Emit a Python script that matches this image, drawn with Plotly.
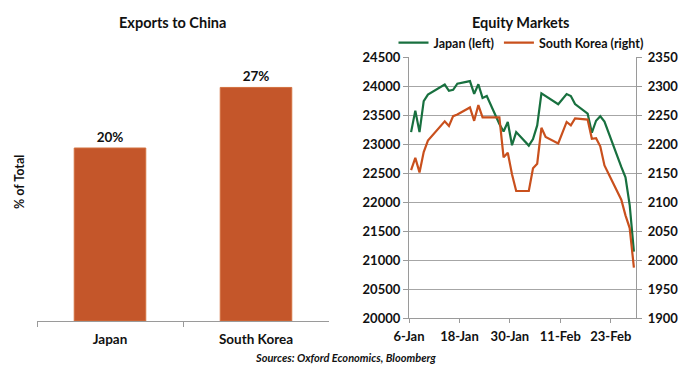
import plotly.graph_objects as go
from datetime import datetime, timedelta

# ---------------- data ----------------
bar_categories = ["Japan", "South Korea"]
bar_values = [20, 27]  # % of total exports going to China

trade_dates = [
    "2020-01-06", "2020-01-07", "2020-01-08", "2020-01-09", "2020-01-10",
    "2020-01-14", "2020-01-15", "2020-01-16", "2020-01-17", "2020-01-20",
    "2020-01-21", "2020-01-22", "2020-01-23", "2020-01-24", "2020-01-27",
    "2020-01-28", "2020-01-29", "2020-01-30", "2020-01-31",
    "2020-02-03", "2020-02-04", "2020-02-05", "2020-02-06", "2020-02-07",
    "2020-02-10", "2020-02-12", "2020-02-13", "2020-02-14", "2020-02-17",
    "2020-02-18", "2020-02-19", "2020-02-20", "2020-02-21", "2020-02-25",
    "2020-02-26", "2020-02-27", "2020-02-28",
]
japan_values = [
    23205, 23576, 23205, 23740, 23851, 24025, 23917, 23933, 24041, 24084,
    23865, 24031, 23795, 23827, 23344, 23216, 23379, 22978, 23205,
    22972, 23085, 23320, 23874, 23828, 23686, 23861, 23828, 23688, 23523,
    23194, 23401, 23479, 23387, 22605, 22426, 21948, 21143,
]
korea_values = [
    2155, 2176, 2151, 2186, 2206, 2239, 2231, 2248, 2251, 2263,
    2240, 2267, 2246, 2246, 2246, 2177, 2185, 2148, 2119,
    2119, 2158, 2166, 2228, 2212, 2201, 2238, 2232, 2244, 2242,
    2209, 2210, 2196, 2163, 2104, 2077, 2055, 1987,
]

# Excel date axis plots each day in the middle of its slot
x_dates = [datetime.strptime(d, "%Y-%m-%d") + timedelta(hours=12) for d in trade_dates]

FONT = "Lato, 'Liberation Sans', sans-serif"
BAR_COLOR = "#C4562A"
GREEN = "#18703F"
RED = "#C9501D"
GRID = "#A6A6A6"
AXIS = "#9A9A9A"

W, H = 700, 371
def px(x):
    return x / W
def py(y):
    return 1 - y / H

fig = go.Figure()

fig.add_trace(go.Bar(
    x=bar_categories, y=bar_values,
    marker=dict(color=BAR_COLOR, line=dict(color="#D2703F", width=1)),
    texttemplate="%{y}%", textposition="outside",
    textfont=dict(family=FONT, size=13.5, color="#111", weight="bold"),
    cliponaxis=False, showlegend=False,
    xaxis="x", yaxis="y",
))

fig.add_trace(go.Scatter(
    x=x_dates, y=japan_values, mode="lines", name="Japan (left)",
    line=dict(color=GREEN, width=2.2),
    xaxis="x2", yaxis="y2",
))
fig.add_trace(go.Scatter(
    x=x_dates, y=korea_values, mode="lines", name="South Korea (right)",
    line=dict(color=RED, width=2.2),
    xaxis="x2", yaxis="y3",
))

tickfont = dict(family=FONT, size=13, color="#111", weight="bold")

fig.update_layout(
    width=W, height=H, autosize=False,
    margin=dict(l=0, r=0, t=0, b=0, pad=0, autoexpand=False),
    paper_bgcolor="white", plot_bgcolor="white",
    bargap=0.51,
    xaxis=dict(
        domain=[px(37), px(329)], type="category",
        showline=True, linecolor=AXIS, linewidth=1.3,
        ticks="outside", tickson="boundaries", ticklen=5, tickcolor=AXIS,
        ticklabelstandoff=6,
        tickfont=dict(family=FONT, size=13.5, color="#111", weight="bold"),
        showgrid=False, zeroline=False, anchor="y", automargin=False,
    ),
    yaxis=dict(
        domain=[py(321), py(61.5)], range=[0, 30],
        visible=False, anchor="x", automargin=False,
    ),
    xaxis2=dict(
        domain=[px(409), px(636)], type="date",
        range=["2020-01-06", "2020-02-29"],
        tick0="2020-01-06", dtick=12 * 86400000, tickformat="%-d-%b",
        showline=True, linecolor=AXIS, linewidth=1.3,
        ticks="outside", ticklen=4, tickcolor=AXIS, ticklabelstandoff=2,
        tickfont=tickfont, showgrid=False, zeroline=False, anchor="y2",
        automargin=False,
    ),
    yaxis2=dict(
        domain=[py(318), py(57)], range=[20000, 24500], dtick=500,
        tickformat="d",
        showline=True, linecolor=AXIS, linewidth=1.3,
        ticks="outside", ticklen=5, tickcolor=AXIS,
        showgrid=True, gridcolor=GRID, gridwidth=1,
        tickfont=tickfont, zeroline=False, anchor="x2", automargin=False,
    ),
    yaxis3=dict(
        range=[1900, 2350], dtick=50, tickformat="d",
        overlaying="y2", side="right",
        showline=True, linecolor=AXIS, linewidth=1.3,
        ticks="outside", ticklen=5, tickcolor=AXIS, ticklabelstandoff=3,
        showgrid=False, tickfont=tickfont, zeroline=False, anchor="x2",
        automargin=False,
    ),
    legend=dict(
        orientation="h", x=px(521), y=py(43), xanchor="center", yanchor="middle",
        font=dict(family=FONT, size=12.5, color="#111", weight="bold"),
        bgcolor="rgba(0,0,0,0)", tracegroupgap=0,
    ),
    annotations=[
        dict(text="Exports to China", x=px(172), y=py(23), xref="paper", yref="paper",
             xanchor="center", yanchor="middle", showarrow=False,
             font=dict(family=FONT, size=14.5, color="#111", weight="bold")),
        dict(text="Equity Markets", x=px(520), y=py(23), xref="paper", yref="paper",
             xanchor="center", yanchor="middle", showarrow=False,
             font=dict(family=FONT, size=14.5, color="#111", weight="bold")),
        dict(text="% of Total", x=px(19), y=py(182), xref="paper", yref="paper",
             xanchor="center", yanchor="middle", textangle=-90, showarrow=False,
             font=dict(family=FONT, size=12.5, color="#111", weight="bold")),
        dict(text="Sources: Oxford Economics, Bloomberg", x=px(345), y=py(357),
             xref="paper", yref="paper", xanchor="center", yanchor="middle",
             showarrow=False,
             font=dict(family=FONT, size=11, color="#111", weight="bold", style="italic")),
    ],
)

fig.write_html("out.html", config={"displayModeBar": False},
               post_script="document.body.style.margin='0';")
